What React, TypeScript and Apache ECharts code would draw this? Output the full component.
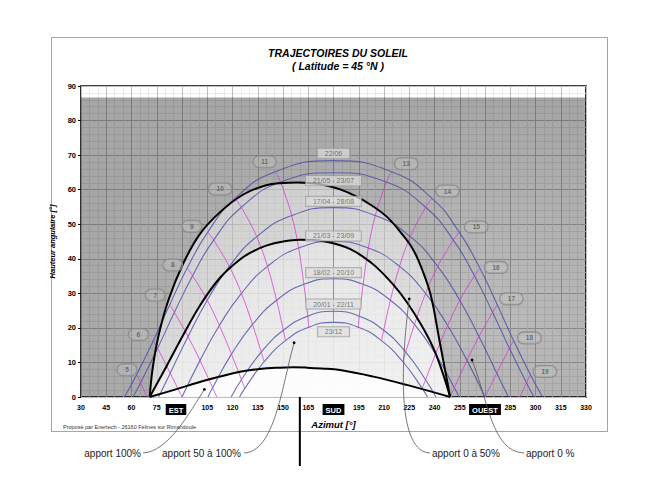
import React, { useEffect, useRef } from "react";
import * as echarts from "echarts";

const FONT = "'Liberation Sans', Arial, Helvetica, sans-serif";

// ---- axes ----
const X_TICKS = [30, 45, 60, 75, 90, 105, 120, 135, 150, 165, 180, 195, 210, 225, 240, 255, 270, 285, 300, 315, 330];
const X_TICK_LABELS = ["30", "45", "60", "75", "EST", "105", "120", "135", "150", "165", "SUD", "195", "210", "225", "240", "255", "OUEST", "285", "300", "315", "330"];
const Y_TICKS = [0, 10, 20, 30, 40, 50, 60, 70, 80, 90];
const Y_TICK_LABELS = ["0", "10", "20", "30", "40", "50", "60", "70", "80", "90"];

// visible sky limit (top white band above)
const SKY_LIMIT = 86.7;

// ---- sun paths [azimuth, altitude] ----
const PATH_2206 = [[55.8, 0], [63.1, 6.5], [73.0, 16.3], [82.7, 26.7], [93.1, 37.3], [105.3, 47.7], [121.5, 57.5], [145.5, 65.2], [180, 68.4], [214.5, 65.2], [238.5, 57.5], [254.7, 47.7], [266.9, 37.3], [277.3, 26.7], [287.0, 16.3], [296.9, 6.5], [304.2, 0]];
const PATH_2105 = [[60.9, 0], [65.4, 4.1], [75.5, 14.1], [85.5, 24.5], [96.3, 35.1], [108.8, 45.4], [125.3, 54.9], [148.6, 62.2], [180, 64.9], [211.4, 62.2], [234.7, 54.9], [251.2, 45.4], [263.7, 35.1], [274.5, 24.5], [284.5, 14.1], [294.6, 4.1], [299.1, 0]];
const PATH_1704 = [[76.1, 0], [83.0, 6.9], [93.6, 17.5], [105.0, 28.0], [118.1, 37.8], [134.4, 46.4], [155.2, 52.5], [180, 54.8], [204.8, 52.5], [225.6, 46.4], [241.9, 37.8], [255.0, 28.0], [266.4, 17.5], [277.0, 6.9], [283.9, 0]];
const PATH_2103 = [[90, 0], [100.7, 10.6], [112.2, 20.7], [125.3, 30.0], [140.8, 37.8], [159.3, 43.1], [180, 45], [200.7, 43.1], [219.2, 37.8], [234.7, 30.0], [247.8, 20.7], [259.3, 10.6], [270, 0]];
const PATH_1802 = [[105.4, 0], [108.2, 2.7], [119.4, 12.4], [131.9, 21.0], [146.2, 28.0], [162.4, 32.6], [180, 34.2], [197.6, 32.6], [213.8, 28.0], [228.1, 21.0], [240.6, 12.4], [251.8, 2.7], [254.6, 0]];
const PATH_2001 = [[119.2, 0], [125.3, 5.0], [137.1, 13.0], [150.2, 19.3], [164.7, 23.4], [180, 24.8], [195.3, 23.4], [209.8, 19.3], [222.9, 13.0], [234.7, 5.0], [240.8, 0]];
const PATH_2312 = [[124.2, 0], [127.3, 2.5], [138.8, 10.2], [151.5, 16.3], [165.3, 20.2], [180, 21.6], [194.7, 20.2], [208.5, 16.3], [221.2, 10.2], [232.7, 2.5], [235.8, 0]];
const SUN_PATHS = [PATH_2206, PATH_2105, PATH_1704, PATH_2103, PATH_1802, PATH_2001, PATH_2312];

// ---- solar hour lines ----
const HOUR_5 = [[63.1, 6.5], [65.4, 4.1], [69.3, 0]];
const HOUR_6 = [[73.0, 16.3], [75.5, 14.1], [83.0, 6.9], [90, 0]];
const HOUR_7 = [[82.7, 26.7], [85.5, 24.5], [93.6, 17.5], [100.7, 10.6], [108.2, 2.7], [110.7, 0]];
const HOUR_8 = [[93.1, 37.3], [96.3, 35.1], [105.0, 28.0], [112.2, 20.7], [119.4, 12.4], [125.3, 5.0], [127.3, 2.5]];
const HOUR_9 = [[105.3, 47.7], [108.8, 45.4], [118.1, 37.8], [125.3, 30.0], [131.9, 21.0], [137.1, 13.0], [138.8, 10.2]];
const HOUR_10 = [[121.5, 57.5], [125.3, 54.9], [134.4, 46.4], [140.8, 37.8], [146.2, 28.0], [150.2, 19.3], [151.5, 16.3]];
const HOUR_11 = [[145.5, 65.2], [148.6, 62.2], [155.2, 52.5], [159.3, 43.1], [162.4, 32.6], [164.7, 23.4], [165.3, 20.2]];
const HOUR_12 = [[180, 68.4], [180, 21.6]];
const HOUR_13 = [[214.5, 65.2], [211.4, 62.2], [204.8, 52.5], [200.7, 43.1], [197.6, 32.6], [195.3, 23.4], [194.7, 20.2]];
const HOUR_14 = [[238.5, 57.5], [234.7, 54.9], [225.6, 46.4], [219.2, 37.8], [213.8, 28.0], [209.8, 19.3], [208.5, 16.3]];
const HOUR_15 = [[254.7, 47.7], [251.2, 45.4], [241.9, 37.8], [234.7, 30.0], [228.1, 21.0], [222.9, 13.0], [221.2, 10.2]];
const HOUR_16 = [[266.9, 37.3], [263.7, 35.1], [255.0, 28.0], [247.8, 20.7], [240.6, 12.4], [234.7, 5.0], [232.7, 2.5]];
const HOUR_17 = [[277.3, 26.7], [274.5, 24.5], [266.4, 17.5], [259.3, 10.6], [251.8, 2.7], [249.3, 0]];
const HOUR_18 = [[287.0, 16.3], [284.5, 14.1], [277.0, 6.9], [270, 0]];
const HOUR_19 = [[296.9, 6.5], [294.6, 4.1], [290.7, 0]];
const HOUR_LINES = [HOUR_5, HOUR_6, HOUR_7, HOUR_8, HOUR_9, HOUR_10, HOUR_11, HOUR_12, HOUR_13, HOUR_14, HOUR_15, HOUR_16, HOUR_17, HOUR_18, HOUR_19];

// ---- solar gain zone limits (black curves) ----
const ZONE_0 = [[70.8, 0], [72.5, 8], [75.9, 17.4], [81.9, 28], [90.8, 38.7], [100.7, 47.2], [112.6, 53.5], [126.4, 58.6], [140, 61.3], [150, 61.95], [158.2, 62.1], [167, 61.85], [175, 61.3], [184, 60.1], [193.8, 58], [202.5, 55.5], [211.6, 52.2], [220, 47.6], [227.5, 42.5], [233.5, 35.8], [238, 29], [242.7, 17], [249.3, 0]];
const ZONE_50 = [[70.8, 0], [80.9, 9], [90.8, 18], [100.7, 26.5], [112.6, 34.5], [125, 40], [132.5, 42.2], [140, 43.8], [150, 45], [160, 45.5], [168, 45.4], [175, 45.0], [182, 44.2], [190, 42.8], [197.5, 40.6], [205, 37.8], [215, 32.8], [223.5, 27.5], [232, 21], [239, 14.5], [244.5, 7.5], [249.3, 0]];
const ZONE_100 = [[70.8, 0], [84.8, 2], [104.7, 4.9], [124.5, 7.3], [136, 8.1], [148.2, 8.5], [156, 8.6], [164, 8.5], [173, 8.25], [183.9, 7.8], [203.7, 5.9], [223.5, 3.5], [249.3, 0]];

// ---- labels ----
const DATE_LABELS = ["22/06", "21/05 - 23/07", "17/04 - 28/08", "21/03 - 23/09", "18/02 - 20/10", "20/01 - 22/11", "23/12"];
const DATE_LABEL_ALT = [70.5, 62.6, 56.6, 46.6, 36.0, 26.9, 18.9];
const DATE_LABEL_AZ = 180;

const HOUR_LABELS = ["5", "6", "7", "8", "9", "10", "11", "13", "14", "15", "16", "17", "18", "19"];
const HOUR_LABEL_AZ = [57.3, 64.1, 74.1, 84.5, 95.9, 112.7, 139.1, 223.2, 247.7, 264.8, 276.6, 285.7, 296.4, 305.6];
const HOUR_LABEL_ALT = [7.9, 18.1, 29.5, 38.2, 49.4, 60.2, 68.1, 67.5, 59.6, 49.2, 37.5, 28.4, 17.1, 7.4];

const ANNOT_TEXTS = ["apport 100%", "apport 50 à 100%", "apport 0 à 50%", "apport 0 %"];
const ANNOT_POINTS = [[103.3, 2.2], [156.6, 15.7], [225, 28.4], [262.3, 10.7]];
const FACADE_AZ = 160;

// layout of the annotation texts and leader curves (pixels)
const ANNOT_LAYOUT = [
  { textX: 141, align: "right", end: [143, 453], c1: [190, 412], c2: [168, 452] },
  { textX: 241, align: "right", end: [244, 453], c1: [282, 385], c2: [275, 452] },
  { textX: 432, align: "left", end: [430, 453], c1: [400, 370], c2: [398, 452] },
  { textX: 526, align: "left", end: [524, 453], c1: [488, 400], c2: [492, 452] },
];

const BLUE = "#4b4ba6";
const MAGENTA = "#d23ad2";
const ZONE_SMOOTH = 0.4;

function vGrad(top: string, bottom: string) {
  return new echarts.graphic.LinearGradient(0, 0, 0, 1, [
    { offset: 0, color: top },
    { offset: 1, color: bottom },
  ]);
}

export default function App() {
  const ref = useRef<HTMLDivElement>(null);

  useEffect(() => {
    if (!ref.current) return;
    const chart = echarts.init(ref.current, null, { renderer: "svg" });

    const series: any[] = [];

    // sky background
    series.push({
      type: "line",
      data: [[30, SKY_LIMIT], [330, SKY_LIMIT]],
      symbol: "none",
      silent: true,
      lineStyle: { opacity: 0, width: 0 },
      areaStyle: {
        origin: "start",
        opacity: 1,
        color: new echarts.graphic.RadialGradient(0.68, 0.75, 0.75, [
          { offset: 0, color: "rgba(0,0,0,0.25)" },
          { offset: 1, color: "rgba(0,0,0,0.35)" },
        ]),
      },
      z: 1,
    });

    // zone fills
    const fills = [
      { data: ZONE_0, color: vGrad("rgba(255,255,255,0.42)", "rgba(255,255,255,0.56)") },
      { data: ZONE_50, color: vGrad("rgba(255,255,255,0.30)", "rgba(255,255,255,0.56)") },
      { data: ZONE_100, color: vGrad("rgba(255,255,255,0.85)", "rgba(255,255,255,0.85)") },
    ];
    fills.forEach((f) =>
      series.push({
        type: "line",
        data: f.data,
        symbol: "none",
        smooth: ZONE_SMOOTH,
        silent: true,
        lineStyle: { opacity: 0, width: 0 },
        areaStyle: { origin: "start", opacity: 1, color: f.color },
        z: 1,
      })
    );

    // sun paths
    SUN_PATHS.forEach((p) =>
      series.push({
        type: "line",
        data: p,
        symbol: "none",
        smooth: 0.5,
        silent: true,
        lineStyle: { color: BLUE, width: 1.1, opacity: 0.8 },
        z: 2,
      })
    );

    // hour lines
    HOUR_LINES.forEach((p) =>
      series.push({
        type: "line",
        data: p,
        symbol: "none",
        smooth: 0.35,
        silent: true,
        lineStyle: { color: MAGENTA, width: 1, opacity: 0.75 },
        z: 2,
      })
    );

    // black zone curves
    [ZONE_0, ZONE_50, ZONE_100].forEach((p) =>
      series.push({
        type: "line",
        data: p,
        symbol: "none",
        smooth: ZONE_SMOOTH,
        silent: true,
        lineStyle: { color: "#000", width: 2 },
        z: 3,
      })
    );

    // date labels
    series.push({
      type: "scatter",
      data: DATE_LABELS.map((t, i) => [DATE_LABEL_AZ, DATE_LABEL_ALT[i], t]),
      symbolSize: 1,
      itemStyle: { color: "transparent" },
      silent: true,
      label: {
        show: true,
        position: "inside",
        formatter: (p: any) => p.value[2],
        fontFamily: FONT,
        fontSize: 7,
        color: "#555",
        backgroundColor: "rgba(222,222,222,0.85)",
        borderColor: "#9a9a9a",
        borderWidth: 0.8,
        padding: [1.5, 7, 1, 7],
      },
      z: 5,
    });

    // hour labels
    series.push({
      type: "scatter",
      data: HOUR_LABELS.map((t, i) => [HOUR_LABEL_AZ[i], HOUR_LABEL_ALT[i], t]),
      symbolSize: 1,
      itemStyle: { color: "transparent" },
      silent: true,
      label: {
        show: true,
        position: "inside",
        formatter: (p: any) => p.value[2],
        fontFamily: FONT,
        fontSize: 6.5,
        fontWeight: "bold",
        color: "#555",
        backgroundColor: "rgba(215,215,215,0.3)",
        borderColor: "#858585",
        borderWidth: 0.8,
        borderRadius: 6,
        padding: [2.5, 8, 2, 8],
      },
      z: 5,
    });

    chart.setOption({
      animation: false,
      grid: {
        left: 81,
        right: 62,
        top: 86,
        bottom: 85,
        show: true,
        borderColor: "#000",
        borderWidth: 1.6,
        backgroundColor: "#fff",
      },
      xAxis: {
        type: "value",
        min: 30,
        max: 330,
        interval: 15,
        name: "Azimut [°]",
        nameLocation: "middle",
        nameGap: 21,
        nameTextStyle: { fontFamily: FONT, fontSize: 9.5, fontWeight: "bold", fontStyle: "italic", color: "#000" },
        axisLine: { show: false },
        axisTick: { show: false },
        axisLabel: {
          margin: 7,
          fontFamily: FONT,
          fontSize: 7,
          fontWeight: "bold",
          color: "#000",
          formatter: (v: number) => {
            const i = X_TICKS.indexOf(v);
            const t = i >= 0 ? X_TICK_LABELS[i] : "";
            if (t === "EST") return "{box|EST}{gap|}";
            if (t === "SUD" || t === "OUEST") return `{box|${t}}`;
            return t;
          },
          rich: {
            box: {
              backgroundColor: "#000",
              color: "#fff",
              fontWeight: "bold",
              fontFamily: FONT,
              fontSize: 7.5,
              padding: [2, 3, 1, 3],
            },
            gap: { width: 12 },
          },
        },
        splitLine: { show: true, lineStyle: { color: "#bdbdbd", width: 1 } },
        minorTick: { show: false, splitNumber: 3 },
        minorSplitLine: { show: true, lineStyle: { color: "#e4e4e4", width: 0.8 } },
      },
      yAxis: {
        type: "value",
        min: 0,
        max: 90,
        interval: 10,
        name: "Hauteur angulaire [°]",
        nameLocation: "middle",
        nameGap: 15,
        nameTextStyle: { fontFamily: FONT, fontSize: 7.5, fontWeight: "bold", fontStyle: "italic", color: "#000" },
        axisLine: { show: false },
        axisTick: { show: true, length: 3, lineStyle: { color: "#000" } },
        axisLabel: {
          margin: 5,
          fontFamily: FONT,
          fontSize: 7.5,
          fontWeight: "bold",
          color: "#000",
          formatter: (v: number) => {
            const i = Y_TICKS.indexOf(v);
            return i >= 0 ? Y_TICK_LABELS[i] : "";
          },
        },
        splitLine: { show: true, lineStyle: { color: "#bdbdbd", width: 1 } },
        minorTick: { show: false, splitNumber: 5 },
        minorSplitLine: { show: true, lineStyle: { color: "#e4e4e4", width: 0.8 } },
      },
      series,
    });

    const toPx = (p: number[]) => chart.convertToPixel({ gridIndex: 0 }, p) as number[];

    const graphics: any[] = [
      {
        type: "text",
        x: 338,
        y: 53,
        style: {
          text: "TRAJECTOIRES DU SOLEIL",
          font: `italic bold 10.5px ${FONT}`,
          fill: "#000",
          textAlign: "center",
          textVerticalAlign: "middle",
        },
        z: 10,
      },
      {
        type: "text",
        x: 338,
        y: 66,
        style: {
          text: "( Latitude = 45 °N )",
          font: `italic bold 10.5px ${FONT}`,
          fill: "#000",
          textAlign: "center",
          textVerticalAlign: "middle",
        },
        z: 10,
      },
      {
        type: "text",
        x: 63,
        y: 427,
        style: {
          text: "Proposé par Enertech - 26160 Félines sur Rimandoule",
          font: `5.5px ${FONT}`,
          fill: "#333",
          textAlign: "left",
          textVerticalAlign: "middle",
        },
        z: 10,
      },
    ];

    // facade direction line
    const f0 = toPx([FACADE_AZ, 0]);
    graphics.push({
      type: "line",
      shape: { x1: f0[0], y1: f0[1], x2: f0[0], y2: 466 },
      style: { stroke: "#000", lineWidth: 2 },
      z: 10,
    });

    ANNOT_POINTS.forEach((p, i) => {
      const [x0, y0] = toPx(p);
      const L = ANNOT_LAYOUT[i];
      graphics.push({
        type: "bezierCurve",
        shape: {
          x1: x0,
          y1: y0,
          cpx1: L.c1[0],
          cpy1: L.c1[1],
          cpx2: L.c2[0],
          cpy2: L.c2[1],
          x2: L.end[0],
          y2: L.end[1],
        },
        style: { stroke: "#555", lineWidth: 0.8, fill: null },
        z: 10,
      });
      graphics.push({
        type: "circle",
        shape: { cx: x0, cy: y0, r: 1.4 },
        style: { fill: "#000" },
        z: 11,
      });
      graphics.push({
        type: "text",
        x: L.textX,
        y: 453,
        style: {
          text: ANNOT_TEXTS[i],
          font: `10px ${FONT}`,
          fill: "#222",
          textAlign: L.align,
          textVerticalAlign: "middle",
        },
        z: 10,
      });
    });

    chart.setOption({ graphic: graphics });

    return () => chart.dispose();
  }, []);

  return (
    <div style={{ position: "absolute", left: 0, top: 0, width: 648, height: 482, background: "#fff" }}>
      <div
        style={{
          position: "absolute",
          left: 51,
          top: 37,
          width: 557,
          height: 395,
          boxSizing: "border-box",
          border: "1.5px solid #a6a6a6",
        }}
      />
      <div ref={ref} style={{ position: "absolute", left: 0, top: 0, width: 648, height: 482 }} />
    </div>
  );
}
